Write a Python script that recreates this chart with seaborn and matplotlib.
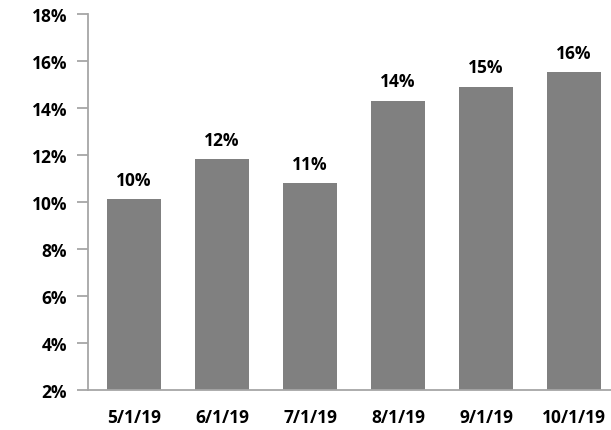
import matplotlib
matplotlib.use("Agg")
import matplotlib.pyplot as plt
import seaborn as sns
import pandas as pd
from matplotlib.ticker import FuncFormatter

dates = ["5/1/19", "6/1/19", "7/1/19", "8/1/19", "9/1/19", "10/1/19"]
rates = [10.13, 11.83, 10.81, 14.31, 14.91, 15.52]
yticks = [2, 4, 6, 8, 10, 12, 14, 16, 18]

sns.set_theme(style="white")
plt.rcParams['font.family'] = ['Open Sans', 'DejaVu Sans']

df = pd.DataFrame({"date": dates, "rate": rates})

fig = plt.figure(figsize=(6.11, 4.31), dpi=100)
ax = fig.add_axes([88/611, 40/431, 1 - 88/611, (391-15)/431])
sns.barplot(data=df, x="date", y="rate", color="#808080", saturation=1,
            width=0.615, ax=ax)
for p in ax.patches:
    p.set_edgecolor("none")

ax.set_ylim(2, 18)
ax.set_xlim(-0.523, 5.42)
ax.set_yticks(yticks)
ax.yaxis.set_major_formatter(FuncFormatter(lambda v, _: f"{v:.0f}%"))
ax.set_xlabel("")
ax.set_ylabel("")

fs = 12.5
for i, v in enumerate(rates):
    ax.annotate(f"{v:.0f}%", (i, v), xytext=(0, 7.5), textcoords="offset points",
                ha="center", va="bottom", fontsize=fs, fontweight="bold", color="black")

for s in ["top", "right"]:
    ax.spines[s].set_visible(False)
for s in ["left", "bottom"]:
    ax.spines[s].set_color("#A6A6A6")
    ax.spines[s].set_linewidth(1.3)

ax.tick_params(axis="y", which="major", left=True, length=8, width=1.3, color="#A6A6A6",
               labelsize=fs, pad=7)
ax.tick_params(axis="x", bottom=False, labelsize=fs, pad=7)
for lab in ax.get_xticklabels() + ax.get_yticklabels():
    lab.set_fontweight("bold")
    lab.set_color("black")

fig.savefig("out.png", dpi=100)
